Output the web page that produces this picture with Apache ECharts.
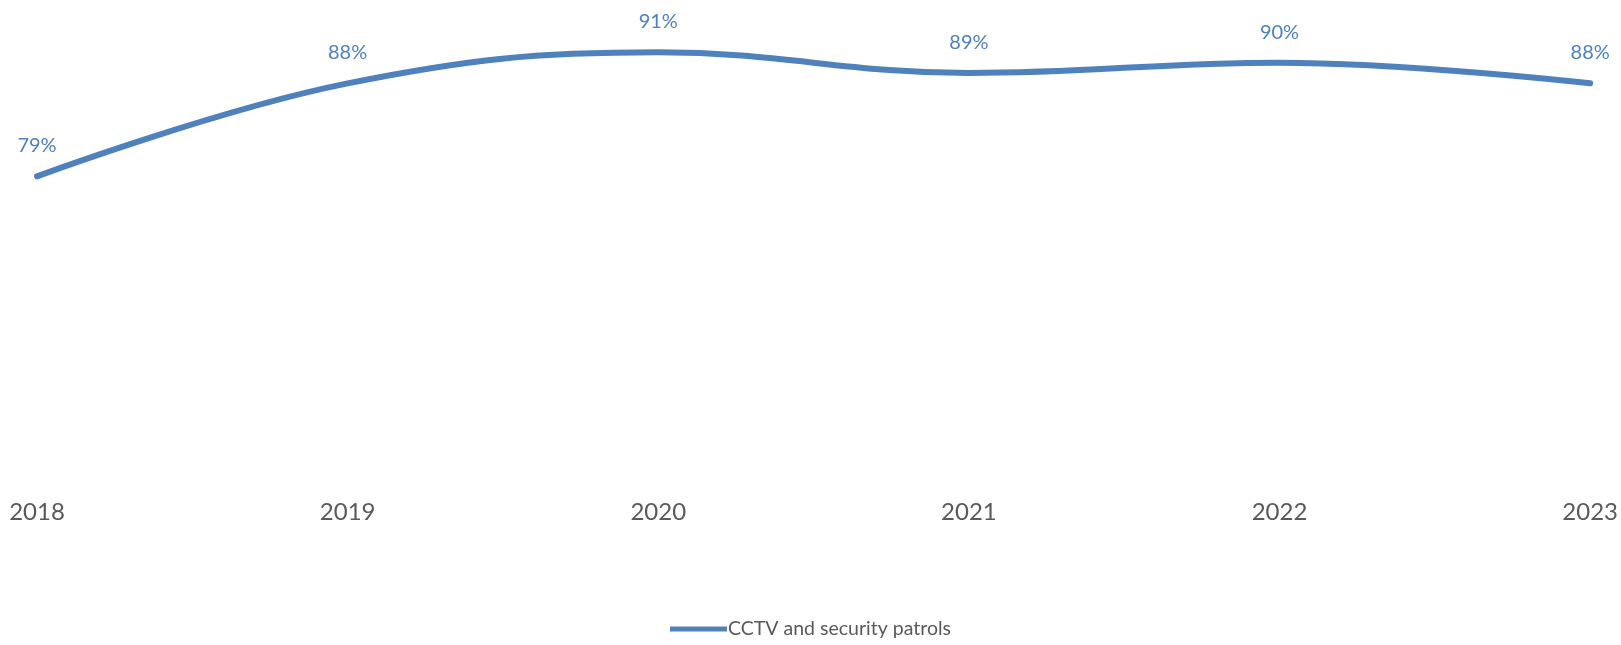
<!DOCTYPE html>
<html>
<head>
<meta charset="utf-8">
<script src="https://cdn.jsdelivr.net/npm/echarts@6/dist/echarts.min.js"></script>
<style>
  html, body { margin: 0; padding: 0; background: #ffffff; }
  #chart { width: 1621px; height: 645px; }
</style>
</head>
<body>
<div id="chart"></div>
<script>
// Share of respondents per year
const years = ['2018', '2019', '2020', '2021', '2022', '2023'];
const seriesName = 'CCTV and security patrols';
const cctvValues = [0.79, 0.88, 0.91, 0.89, 0.90, 0.88];

const lineColor = '#4f81bd';
const fontFamily = 'Lato, "Open Sans", sans-serif';

const chart = echarts.init(document.getElementById('chart'), null, { renderer: 'canvas' });

chart.setOption({
  animation: false,
  grid: { left: 37, right: 28, top: 11, bottom: 169 },
  legend: {
    bottom: 1,
    left: 'center',
    itemWidth: 57,
    itemHeight: 5,
    itemGap: 10,
    icon: 'rect',
    itemStyle: { color: lineColor, opacity: 1 },
    textStyle: { color: '#595959', fontSize: 19.5, fontFamily: fontFamily, padding: [0, 0, 0, -4] },
    data: [seriesName]
  },
  xAxis: {
    type: 'category',
    data: years,
    boundaryGap: false,
    axisLine: { show: false },
    axisTick: { show: false },
    axisLabel: { color: '#595959', fontSize: 24, fontFamily: fontFamily, margin: 24 }
  },
  yAxis: {
    type: 'value',
    min: 0.5,
    max: 0.95,
    show: false,
    splitLine: { show: false }
  },
  series: [{
    name: seriesName,
    type: 'line',
    data: cctvValues,
    smooth: 0.4,
    showSymbol: true,
    symbol: 'circle',
    symbolSize: 1,
    lineStyle: { color: lineColor, width: 6, cap: 'round' },
    itemStyle: { color: lineColor },
    label: {
      show: true,
      position: 'top',
      distance: 20,
      color: lineColor,
      fontSize: 20,
      fontFamily: fontFamily,
      formatter: p => Math.round(p.value * 100) + '%'
    }
  }]
});
</script>
</body>
</html>
